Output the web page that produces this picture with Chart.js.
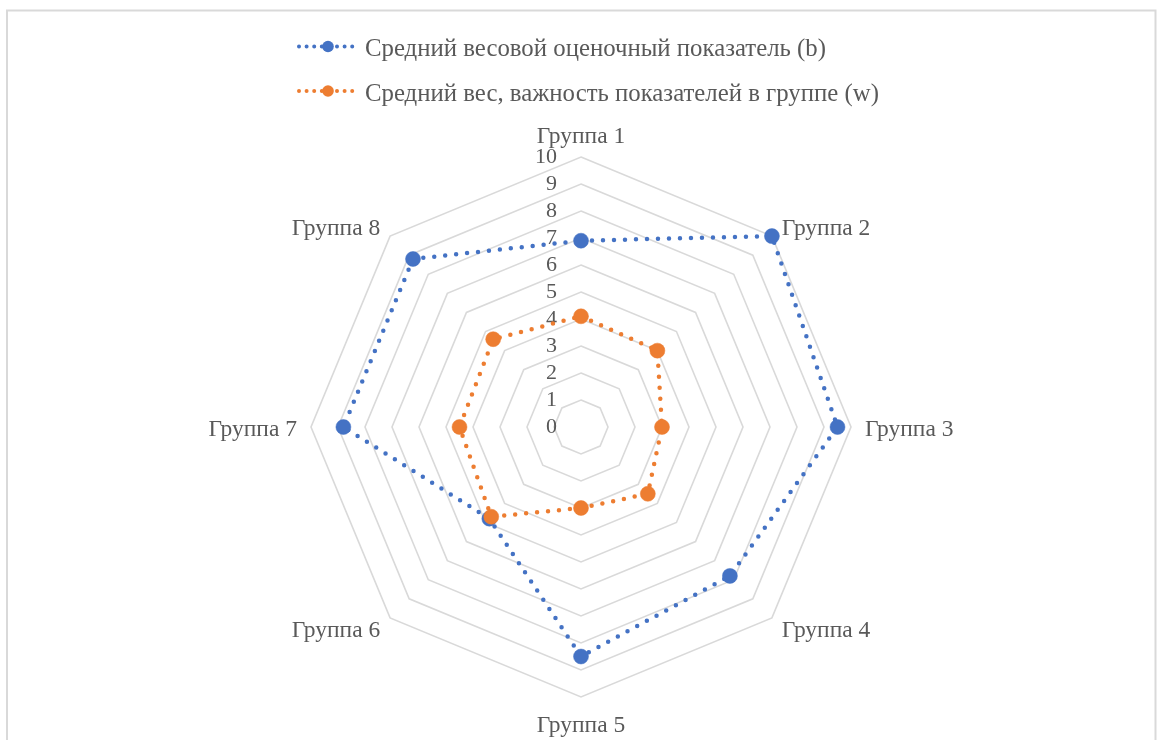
<!DOCTYPE html>
<html lang="ru">
<head>
<meta charset="utf-8">
<title>Радарная диаграмма по группам</title>
<script src="https://cdn.jsdelivr.net/npm/chart.js@4.4.1/dist/chart.umd.min.js"></script>
<style>
  html, body { margin: 0; padding: 0; background: #ffffff; }
  #chart { display: block; }
</style>
</head>
<body>
<canvas id="chart" width="1161" height="740"></canvas>
<script>
// Axis categories
const groups = ['Группа 1', 'Группа 2', 'Группа 3', 'Группа 4', 'Группа 5', 'Группа 6', 'Группа 7', 'Группа 8'];

// Series values
const avgScore = [6.9, 10.0, 9.5, 7.8, 8.5, 4.8, 8.8, 8.8];   // (b)
const avgWeight = [4.1, 4.0, 3.0, 3.5, 3.0, 4.7, 4.5, 4.6];   // (w)

// Series names
const scoreName = 'Средний весовой оценочный показатель (b)';
const weightName = 'Средний вес, важность показателей в группе (w)';

// Radial tick labels
const tickValues = [0, 1, 2, 3, 4, 5, 6, 7, 8, 9, 10];

const TEXT_COLOR = '#595959';
const GRID_COLOR = '#d9d9d9';
const FONT_FAMILY = '"Liberation Serif", "Times New Roman", serif';
const TICK_FONT = '22px ' + FONT_FAMILY;
const LABEL_FONT = '23.5px ' + FONT_FAMILY;
const LEGEND_FONT = '24.8px ' + FONT_FAMILY;

// Frame, radial tick labels, category labels and the stacked legend
const decorations = {
  id: 'decorations',
  beforeDraw(chart) {
    const ctx = chart.ctx;
    ctx.save();
    ctx.fillStyle = '#ffffff';
    ctx.fillRect(0, 0, chart.width, chart.height);
    ctx.strokeStyle = GRID_COLOR;
    ctx.lineWidth = 2;
    ctx.strokeRect(7, 10.5, 1148.5, 800);
    ctx.restore();
  },
  beforeDatasetsDraw(chart) {
    const ctx = chart.ctx;
    const scale = chart.scales.r;
    ctx.save();
    ctx.font = TICK_FONT;
    ctx.fillStyle = TEXT_COLOR;
    ctx.textAlign = 'right';
    ctx.textBaseline = 'middle';
    tickValues.forEach(v => {
      const d = scale.getDistanceFromCenterForValue(v);
      ctx.fillText(String(v), scale.xCenter - 24, scale.yCenter - d);
    });
    ctx.restore();
  },
  afterDraw(chart) {
    const ctx = chart.ctx;
    const scale = chart.scales.r;
    ctx.save();
    ctx.fillStyle = TEXT_COLOR;

    // category labels around the outer ring
    ctx.font = LABEL_FONT;
    chart.data.labels.forEach((label, i) => {
      const p = scale.getPointPosition(i, scale.drawingArea + 14);
      const c = Math.cos(p.angle);
      const s = Math.sin(p.angle);
      let y;
      if (Math.abs(c) < 0.1) {
        ctx.textAlign = 'center';
        y = s < 0 ? p.y : p.y + 21;
      } else {
        ctx.textAlign = c > 0 ? 'left' : 'right';
        y = p.y + 9;
      }
      ctx.textBaseline = 'alphabetic';
      ctx.fillText(label, p.x, y);
    });

    // legend: one entry per row
    ctx.font = LEGEND_FONT;
    const left = 297;
    const rowBaselines = [56, 100.5];
    chart.data.datasets.forEach((ds, i) => {
      const base = rowBaselines[i];
      const cy = base - 9.5;
      ctx.save();
      ctx.strokeStyle = ds.borderColor;
      ctx.lineWidth = 4;
      ctx.lineCap = 'round';
      ctx.setLineDash([0, 7.6]);
      ctx.beginPath();
      ctx.moveTo(left + 2, cy);
      ctx.lineTo(left + 62, cy);
      ctx.stroke();
      ctx.setLineDash([]);
      ctx.fillStyle = ds.pointBackgroundColor;
      ctx.beginPath();
      ctx.arc(left + 31, cy, 5.8, 0, Math.PI * 2);
      ctx.fill();
      ctx.restore();
      ctx.textAlign = 'left';
      ctx.textBaseline = 'alphabetic';
      ctx.fillText(ds.label, left + 68, base);
    });
    ctx.restore();
  }
};

function seriesStyle(color, order) {
  return {
    borderColor: color,
    backgroundColor: 'transparent',
    borderWidth: 4.5,
    borderDash: [0, 11],
    borderCapStyle: 'round',
    fill: false,
    tension: 0,
    pointRadius: 7.5,
    pointBackgroundColor: color,
    pointBorderColor: color,
    pointBorderWidth: 0.5,
    order: order
  };
}

new Chart(document.getElementById('chart'), {
  type: 'radar',
  data: {
    labels: groups,
    datasets: [
      Object.assign({ label: scoreName, data: avgScore }, seriesStyle('#4472c4', 2)),
      Object.assign({ label: weightName, data: avgWeight }, seriesStyle('#ed7d31', 1))
    ]
  },
  options: {
    responsive: false,
    animation: false,
    layout: { padding: { top: 157, bottom: 43, left: 2, right: 0 } },
    plugins: {
      legend: { display: false },
      title: { display: false },
      tooltip: { enabled: false }
    },
    scales: {
      r: {
        min: 0,
        max: 10,
        ticks: { stepSize: 1, display: false },
        grid: { color: GRID_COLOR, lineWidth: 1.6 },
        angleLines: { display: false },
        pointLabels: { display: false }
      }
    }
  },
  plugins: [decorations]
});
</script>
</body>
</html>
